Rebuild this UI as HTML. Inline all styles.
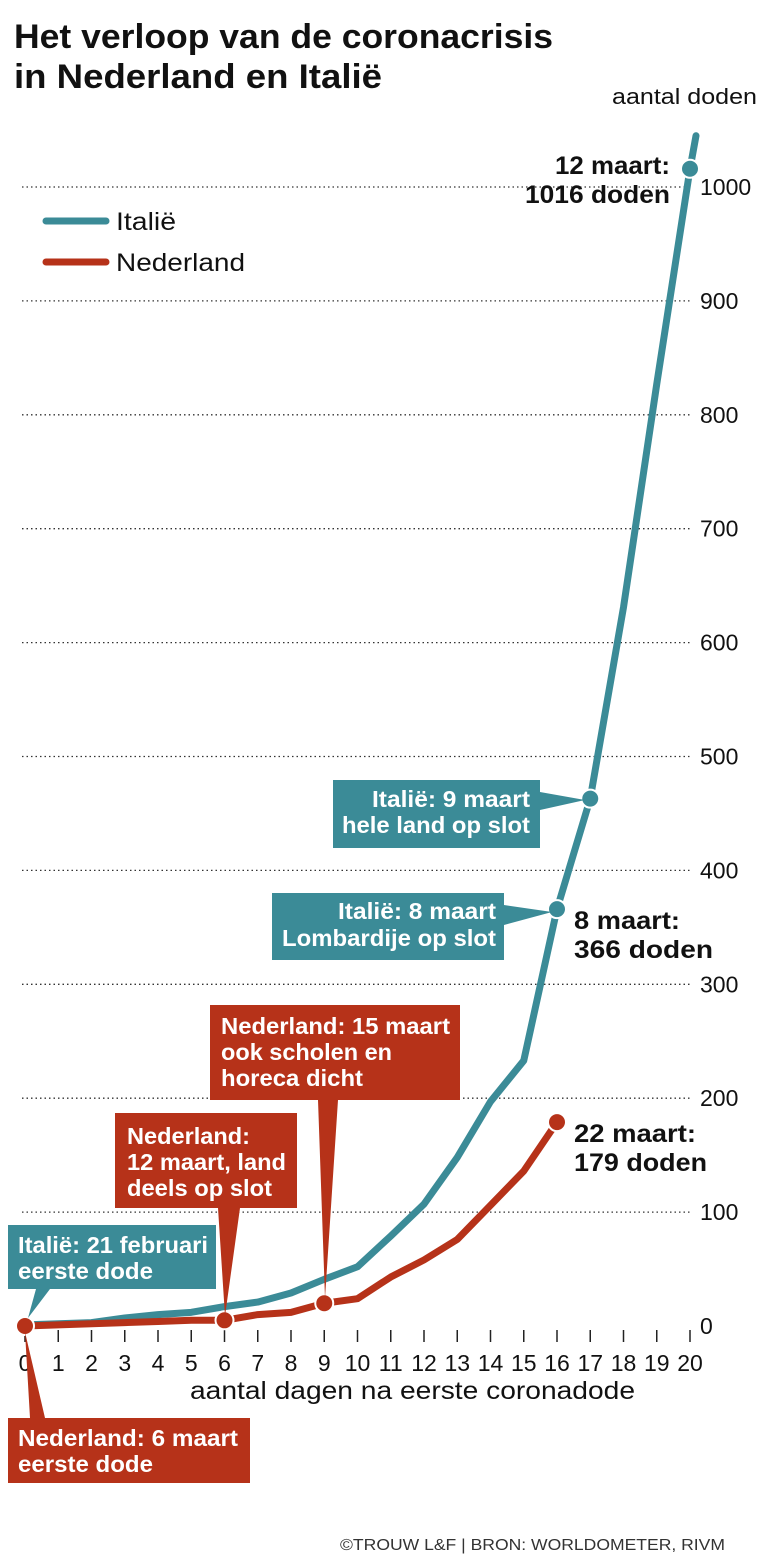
<!DOCTYPE html>
<html><head><meta charset="utf-8"><style>
body{margin:0;background:#fff;font-family:"Liberation Sans",sans-serif}
svg{display:block}
</style></head><body>
<svg id="s" width="763" height="1565" xmlns="http://www.w3.org/2000/svg" font-family="Liberation Sans, sans-serif">
<g lengthAdjust="spacingAndGlyphs">
<text x="14" y="48" font-size="34" font-weight="bold" fill="#111" textLength="539" lengthAdjust="spacingAndGlyphs">Het verloop van de coronacrisis</text>
<text x="14" y="88" font-size="34" font-weight="bold" fill="#111" textLength="368" lengthAdjust="spacingAndGlyphs">in Nederland en Italië</text>
<text x="612" y="104" font-size="22" fill="#111" textLength="145" lengthAdjust="spacingAndGlyphs">aantal doden</text>
</g>
<g id="grid"></g>
<line x1="46" y1="221" x2="106" y2="221" stroke="#3b8b97" stroke-width="7" stroke-linecap="round"/>
<text x="116" y="230" font-size="25" fill="#111" textLength="60" lengthAdjust="spacingAndGlyphs">Italië</text>
<line x1="46" y1="262" x2="106" y2="262" stroke="#b63219" stroke-width="7" stroke-linecap="round"/>
<text x="116" y="271" font-size="25" fill="#111" textLength="129" lengthAdjust="spacingAndGlyphs">Nederland</text>
<g id="ticks"></g>
<polyline id="it" fill="none" stroke="#3b8b97" stroke-width="7" stroke-linejoin="round" stroke-linecap="round"/>
<polyline id="nl" fill="none" stroke="#b63219" stroke-width="7" stroke-linejoin="round" stroke-linecap="round"/>
<g id="dots"></g>
<text x="190" y="1399" font-size="25" fill="#111" textLength="445" lengthAdjust="spacingAndGlyphs">aantal dagen na eerste coronadode</text>
<g font-size="23" font-weight="bold" fill="#fff">
<polygon points="8,1225 216,1225 216,1289 50,1289 28,1318 36,1289 8,1289" fill="#3b8b97"/>
<text x="18" y="1253" textLength="190" lengthAdjust="spacingAndGlyphs">Italië: 21 februari</text><text x="18" y="1279" textLength="135" lengthAdjust="spacingAndGlyphs">eerste dode</text>
<polygon points="8,1418 30,1418 25,1332 45,1418 250,1418 250,1483 8,1483" fill="#b63219"/>
<text x="18" y="1446" textLength="220" lengthAdjust="spacingAndGlyphs">Nederland: 6 maart</text><text x="18" y="1472" textLength="135" lengthAdjust="spacingAndGlyphs">eerste dode</text>
<polygon points="115,1113 297,1113 297,1208 240,1208 225,1316 218,1208 115,1208" fill="#b63219"/>
<text x="127" y="1144" textLength="123" lengthAdjust="spacingAndGlyphs">Nederland:</text><text x="127" y="1170" textLength="159" lengthAdjust="spacingAndGlyphs">12 maart, land</text><text x="127" y="1196" textLength="145" lengthAdjust="spacingAndGlyphs">deels op slot</text>
<polygon points="210,1005 460,1005 460,1100 338,1100 325,1298 318,1100 210,1100" fill="#b63219"/>
<text x="221" y="1034" textLength="229" lengthAdjust="spacingAndGlyphs">Nederland: 15 maart</text><text x="221" y="1060" textLength="171" lengthAdjust="spacingAndGlyphs">ook scholen en</text><text x="221" y="1086" textLength="142" lengthAdjust="spacingAndGlyphs">horeca dicht</text>
<polygon points="272,893 504,893 504,905 552,912 504,925 504,960 272,960" fill="#3b8b97"/>
<text x="338" y="919" textLength="158" lengthAdjust="spacingAndGlyphs">Italië: 8 maart</text><text x="282" y="946" textLength="214" lengthAdjust="spacingAndGlyphs">Lombardije op slot</text>
<polygon points="333,780 540,780 540,792 585,800 540,810 540,848 333,848" fill="#3b8b97"/>
<text x="372" y="807" textLength="158" lengthAdjust="spacingAndGlyphs">Italië: 9 maart</text><text x="342" y="833" textLength="188" lengthAdjust="spacingAndGlyphs">hele land op slot</text>
</g>
<g font-size="25" font-weight="bold" fill="#111">
<text x="555" y="174" textLength="115" lengthAdjust="spacingAndGlyphs">12 maart:</text><text x="525" y="203" textLength="145" lengthAdjust="spacingAndGlyphs">1016 doden</text>
<text x="574" y="929" textLength="106" lengthAdjust="spacingAndGlyphs">8 maart:</text><text x="574" y="958" textLength="139" lengthAdjust="spacingAndGlyphs">366 doden</text>
<text x="574" y="1142" textLength="122" lengthAdjust="spacingAndGlyphs">22 maart:</text><text x="574" y="1171" textLength="133" lengthAdjust="spacingAndGlyphs">179 doden</text>
</g>
<text x="340" y="1550" font-size="16" fill="#333" textLength="385" lengthAdjust="spacingAndGlyphs">©TROUW L&amp;F | BRON: WORLDOMETER, RIVM</text>
</svg>
<script>
var NS="http://www.w3.org/2000/svg";
function X(d){return 25+d*33.25}function Y(v){return 1326-v*1.139}
function el(t,a,p){var e=document.createElementNS(NS,t);for(var k in a)e.setAttribute(k,a[k]);document.getElementById(p).appendChild(e);return e}
for(var v=0;v<=1000;v+=100){if(v>0)el("line",{x1:22,y1:Y(v),x2:690,y2:Y(v),stroke:"#333","stroke-width":1.3,"stroke-dasharray":"1.5 3"},"grid");
var t=el("text",{x:700,y:Y(v)+8,"font-size":23,fill:"#111"},"grid");t.textContent=v;}
for(var d=0;d<=20;d++){el("line",{x1:X(d),y1:1330,x2:X(d),y2:1342,stroke:"#222","stroke-width":1.5},"ticks");
var t=el("text",{x:X(d),y:1371,"font-size":23,"text-anchor":"middle",fill:"#111"},"ticks");t.textContent=d;}
var it=[1,2,3,7,10,12,17,21,29,41,52,79,107,148,197,233,366,463,631,827,1016];
var nl=[0,1,2,3,4,5,5,10,12,20,24,43,58,76,106,136,179];
var p=it.map(function(v,i){return X(i)+","+Y(v)}).join(" ")+" "+(X(20)+6)+","+Y(1045);
document.getElementById("it").setAttribute("points",p);
document.getElementById("nl").setAttribute("points",nl.map(function(v,i){return X(i)+","+Y(v)}).join(" "));
[[20,1016,"#3b8b97"],[16,366,"#3b8b97"],[17,463,"#3b8b97"],[0,0,"#b63219"],[6,5,"#b63219"],[9,20,"#b63219"],[16,179,"#b63219"]].forEach(function(a){
el("circle",{cx:X(a[0]),cy:Y(a[1]),r:9,fill:a[2],stroke:"#fff","stroke-width":2},"dots")});
</script>
</body></html>
